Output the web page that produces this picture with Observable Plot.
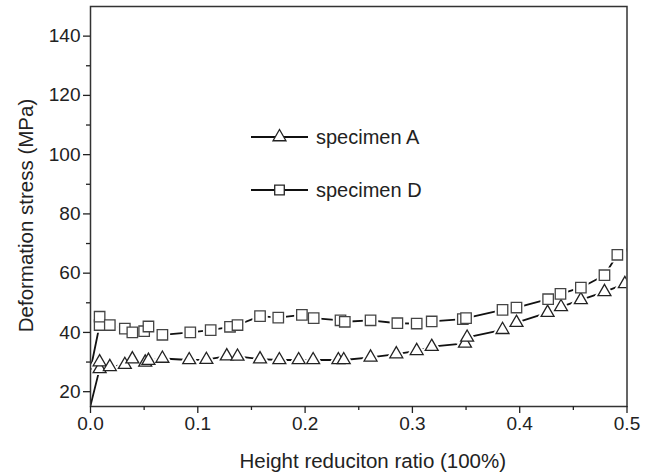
<!DOCTYPE html>
<html>
<head>
<meta charset="utf-8">
<script src="https://cdn.jsdelivr.net/npm/d3@7"></script>
<script src="https://cdn.jsdelivr.net/npm/@observablehq/plot@0.6"></script>
<style>
  html, body { margin: 0; padding: 0; background: white; }
</style>
</head>
<body>
<div id="chart"></div>
<script>
// ---- data ----
const seriesNames = ["specimen A", "specimen D"];
const xA = [0, 0.0085, 0.0085, 0.018, 0.032, 0.039, 0.051, 0.054, 0.067, 0.092, 0.108, 0.127, 0.137, 0.158, 0.176, 0.194, 0.2075, 0.231, 0.236, 0.261, 0.285, 0.304, 0.318, 0.349, 0.351, 0.384, 0.397, 0.426, 0.4385, 0.457, 0.479, 0.498];
const yA = [15.3, 27.7, 30, 28.4, 29.1, 31, 29.9, 30.5, 31.2, 30.7, 30.8, 32, 31.9, 31, 30.7, 30.7, 30.7, 30.7, 30.7, 31.6, 32.7, 33.8, 35.2, 36.3, 38.3, 40.9, 43.3, 46.7, 48.6, 51, 53.7, 56.4];
const xD = [0, 0.0085, 0.0085, 0.018, 0.032, 0.039, 0.050, 0.054, 0.067, 0.093, 0.112, 0.130, 0.137, 0.158, 0.175, 0.197, 0.208, 0.233, 0.237, 0.261, 0.286, 0.304, 0.318, 0.347, 0.350, 0.384, 0.397, 0.4265, 0.438, 0.457, 0.479, 0.491, 0.505];
const yD = [27.5, 42.5, 45.3, 42.5, 41.3, 40, 40.4, 42, 39.2, 40, 40.8, 41.9, 42.5, 45.5, 45, 45.9, 44.8, 44.1, 43.6, 44.1, 43.1, 43, 43.7, 44.5, 44.8, 47.6, 48.4, 51.2, 53, 55.1, 59.3, 66.2, 69.2];
const xTicks = [0, 0.1, 0.2, 0.3, 0.4, 0.5];
const xMinor = [0.05, 0.15, 0.25, 0.35, 0.45];
const yTicks = [20, 40, 60, 80, 100, 120, 140];
const yMinor = [30, 50, 70, 90, 110, 130];
const xLabel = "Height reduciton ratio (100%)";
const yLabel = "Deformation stress (MPa)";

const A = xA.map((x, i) => ({x, y: yA[i]}));
const D = xD.map((x, i) => ({x, y: yD[i]}));

const ink = "#222";
const chart = Plot.plot({
  width: 654,
  height: 475,
  marginLeft: 90,
  marginRight: 27.5,
  marginTop: 6,
  marginBottom: 69,
  style: {fontFamily: "'Liberation Sans', Arial, sans-serif", color: ink, background: "white", overflow: "visible"},
  x: {domain: [0, 0.5]},
  y: {domain: [15, 150]},
  marks: [
    Plot.line(A, {x: "x", y: "y", stroke: "#111", strokeWidth: 1.8, clip: true}),
    Plot.line(D, {x: "x", y: "y", stroke: "#111", strokeWidth: 1.8, clip: true}),
    Plot.dot(A.slice(1), {x: "x", y: "y", symbol: "triangle", r: 4.8, fill: "white", stroke: "white", strokeWidth: 5, clip: true}),
    Plot.dot(D.slice(1), {x: "x", y: "y", symbol: "square", r: 5.9, fill: "white", stroke: "white", strokeWidth: 5, clip: true}),
    Plot.dot(A.slice(1), {x: "x", y: "y", symbol: "triangle", r: 4.8, fill: "white", stroke: "#222", strokeWidth: 1.3, clip: true}),
    Plot.dot(D.slice(1), {x: "x", y: "y", symbol: "square", r: 5.9, fill: "white", stroke: "#444", strokeWidth: 1.3, clip: true}),
    Plot.frame({stroke: "#333", strokeWidth: 1.5}),
    Plot.axisX(xTicks, {tickSize: 7, tickPadding: 3, fontSize: 19, tickFormat: d3.format(".1f"), label: null, strokeWidth: 1.3}),
    Plot.axisX(xMinor, {tickSize: 4, tickFormat: () => "", label: null, strokeWidth: 1.3}),
    Plot.axisY(yTicks, {tickSize: 7, tickPadding: 3, fontSize: 19, label: null, strokeWidth: 1.3}),
    Plot.axisY(yMinor, {tickSize: 4, tickFormat: () => "", label: null, strokeWidth: 1.3}),
    Plot.text([xLabel], {frameAnchor: "bottom", textAnchor: "middle", lineAnchor: "middle", dx: 14, dy: 55, fontSize: 20.5, fill: ink}),
    Plot.text([yLabel], {frameAnchor: "left", textAnchor: "middle", lineAnchor: "middle", dx: -64, dy: 9, rotate: -90, fontSize: 20.5, fill: ink})
  ]
});
document.getElementById("chart").appendChild(chart);

// ---- legend (inside the plot area) ----
const svg = d3.select(chart);
const leg = svg.append("g").attr("text-anchor", "start");
const items = [
  {name: seriesNames[0], sym: d3.symbolTriangle, size: 4.8 * 4.8 * Math.PI, y: 137},
  {name: seriesNames[1], sym: d3.symbolSquare, size: 5.4 * 5.4 * Math.PI, y: 190}
];
items.forEach(it => {
  leg.append("line").attr("x1", 251).attr("x2", 308).attr("y1", it.y).attr("y2", it.y)
    .attr("stroke", "#111").attr("stroke-width", 1.8);
  leg.append("path").attr("d", d3.symbol(it.sym, it.size)())
    .attr("transform", `translate(279.5,${it.y})`)
    .attr("fill", "white").attr("stroke", "#222").attr("stroke-width", 1.3);
  leg.append("text").attr("x", 316).attr("y", it.y).attr("dy", "0.35em")
    .attr("text-anchor", "start")
    .attr("font-size", 20).attr("fill", ink).text(it.name);
});
</script>
</body>
</html>
